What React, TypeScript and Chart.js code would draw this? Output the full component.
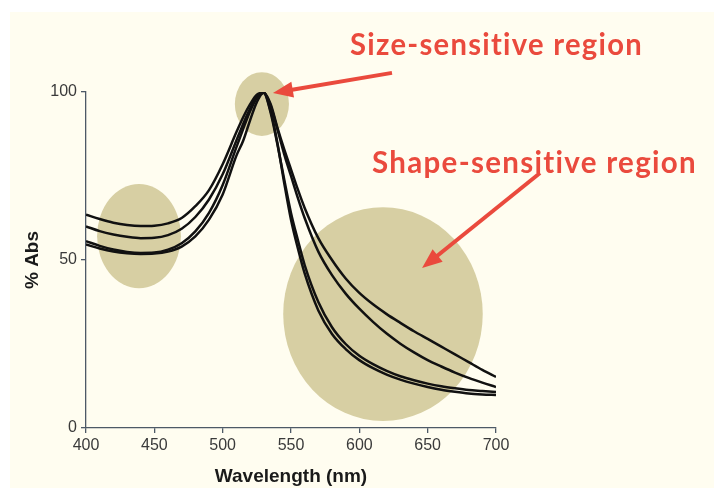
import { useEffect, useRef } from "react";
import { Chart, registerables } from "chart.js";

Chart.register(...registerables);

// Wavelength grid (nm), denser around the plasmon peak
const wavelengths = [
  400, 410, 420, 430, 440, 450, 460, 470, 480, 490, 500,
  510, 515, 520, 525, 530, 535, 540, 545, 550, 555, 560,
  570, 580, 590, 600, 610, 620, 630, 640, 650, 660, 670, 680, 690, 700,
];

// Normalised absorbance spectra (% Abs)
const spectrumA = [
  63.5, 62.2, 61.1, 60.4, 60.1, 60.2, 60.9, 62.5, 66, 70.8, 78.5,
  88, 92.5, 96.3, 99.2, 99.8, 96.5, 89.5, 83, 77, 71, 65.5,
  56.5, 50, 44.5, 40.2, 36.8, 33.9, 31.3, 28.8, 26.5, 24.2, 21.9, 19.6, 17.3, 15.2,
];
const spectrumB = [
  60, 58.6, 57.6, 56.9, 56.5, 56.6, 57.4, 59.3, 62.8, 68, 75.5,
  85.5, 90.5, 95, 98.7, 99.8, 96, 89, 81.5, 75, 68.5, 62.5,
  52.5, 45.5, 40, 35.5, 31.6, 28.1, 25.1, 22.5, 20.2, 18.3, 16.5, 14.9, 13.5, 12.2,
];
const spectrumC = [
  55.6, 54.2, 53.1, 52.4, 52.1, 52.2, 53.1, 55, 58.5, 64, 72.3,
  83.5, 89, 94.2, 98.2, 99.8, 94, 84.5, 74, 64, 56, 48.5,
  37.5, 30, 25, 21.5, 19, 17, 15.4, 14.2, 13.2, 12.4, 11.8, 11.3, 11, 10.7,
];
const spectrumD = [
  54.6, 53.4, 52.5, 52, 51.8, 51.9, 52.5, 54, 57, 62, 69.5,
  81, 85.5, 91.5, 97, 99.8, 94.5, 85, 73, 62, 53.5, 46,
  35, 28, 23.5, 20.2, 17.8, 15.9, 14.4, 13.2, 12.2, 11.4, 10.8, 10.3, 10, 9.8,
];
const spectra = [spectrumA, spectrumB, spectrumC, spectrumD];

// Axis ticks
const xTicks = [400, 450, 500, 550, 600, 650, 700];
const yTicks = [0, 50, 100];

// Highlighted regions: centre (nm, % Abs) and radii (nm, % Abs)
const regionCentersNm = [438.8, 528.7, 617.3];
const regionCentersAbs = [57.1, 96.4, 33.9];
const regionRadiiNm = [30.7, 19.8, 73];
const regionRadiiAbs = [15.5, 9.5, 31.8];

// Callout labels: text, left/baseline anchor (nm, % Abs), width (nm)
const calloutTexts = ["Size-sensitive region", "Shape-sensitive region"];
const calloutNm = [593.2, 609.3];
const calloutAbs = [111.0, 75.9];
const calloutWidthNm = [214.4, 240];

// Arrows: tail and tip (nm, % Abs)
const arrowTailNm = [623.9, 732.2];
const arrowTailAbs = [105.7, 75.9];
const arrowTipNm = [536.8, 645.9];
const arrowTipAbs = [99.7, 47.6];

const AXIS_COLOR = "#4d5966";
const RED = "#ea4a3d";
const TAN = "#d7cfa3";
const CREAM = "#fffdf0";

const backdropPlugin = {
  id: "backdrop",
  beforeDraw(chart: any) {
    const { ctx, width, height } = chart;
    ctx.save();
    ctx.fillStyle = "#ffffff";
    ctx.fillRect(0, 0, width, height);
    ctx.fillStyle = CREAM;
    ctx.fillRect(10, 12, width - 10, height - 12);
    ctx.restore();
  },
  beforeDatasetsDraw(chart: any) {
    const { ctx } = chart;
    const xs = chart.scales.x;
    const ys = chart.scales.y;
    ctx.save();
    ctx.fillStyle = TAN;
    regionCentersNm.forEach((nm, i) => {
      const cx = xs.getPixelForValue(nm);
      const cy = ys.getPixelForValue(regionCentersAbs[i]);
      const rx = xs.getPixelForValue(nm + regionRadiiNm[i]) - cx;
      const ry = cy - ys.getPixelForValue(regionCentersAbs[i] + regionRadiiAbs[i]);
      ctx.beginPath();
      ctx.ellipse(cx, cy, rx, ry, 0, 0, Math.PI * 2);
      ctx.fill();
    });
    ctx.restore();
  },
  afterDraw(chart: any) {
    const { ctx } = chart;
    const xs = chart.scales.x;
    const ys = chart.scales.y;
    ctx.save();
    // arrows
    ctx.strokeStyle = RED;
    ctx.fillStyle = RED;
    ctx.lineWidth = 4;
    ctx.lineCap = "butt";
    arrowTailNm.forEach((nm, i) => {
      const x0 = xs.getPixelForValue(nm);
      const y0 = ys.getPixelForValue(arrowTailAbs[i]);
      const x1 = xs.getPixelForValue(arrowTipNm[i]);
      const y1 = ys.getPixelForValue(arrowTipAbs[i]);
      const ang = Math.atan2(y1 - y0, x1 - x0);
      const headLen = 20;
      const headHalf = 8;
      const bx = x1 - headLen * Math.cos(ang);
      const by = y1 - headLen * Math.sin(ang);
      ctx.beginPath();
      ctx.moveTo(x0, y0);
      ctx.lineTo(bx + 2 * Math.cos(ang), by + 2 * Math.sin(ang));
      ctx.stroke();
      ctx.beginPath();
      ctx.moveTo(x1, y1);
      ctx.lineTo(bx - headHalf * Math.sin(ang), by + headHalf * Math.cos(ang));
      ctx.lineTo(bx + headHalf * Math.sin(ang), by - headHalf * Math.cos(ang));
      ctx.closePath();
      ctx.fill();
    });
    // callout text (letter spacing also keeps "ti" from forming a ligature)
    ctx.font = "bold 29.5px Lato, 'Open Sans', sans-serif";
    (ctx as any).letterSpacing = "1.3px";
    ctx.textBaseline = "alphabetic";
    ctx.textAlign = "left";
    calloutTexts.forEach((t, i) => {
      const x = xs.getPixelForValue(calloutNm[i]);
      const y = ys.getPixelForValue(calloutAbs[i]);
      const w = xs.getPixelForValue(calloutNm[i] + calloutWidthNm[i]) - x;
      ctx.fillText(t, x, y, w);
    });
    ctx.restore();
  },
};

export default function App() {
  const canvasRef = useRef<HTMLCanvasElement | null>(null);

  useEffect(() => {
    const canvas = canvasRef.current;
    if (!canvas) return;
    const chart = new Chart(canvas, {
      type: "line",
      data: {
        datasets: spectra.map((s, i) => ({
          label: `Spectrum ${i + 1}`,
          data: wavelengths.map((w, j) => ({ x: w, y: s[j] })),
          borderColor: "#111111",
          borderWidth: 2.5,
          pointRadius: 0,
          cubicInterpolationMode: "monotone" as const,
          fill: false,
        })),
      },
      options: {
        animation: false,
        responsive: false,
        devicePixelRatio: 1,
        layout: { padding: { left: 0, right: 218, top: 92, bottom: 0 } },
        plugins: {
          legend: { display: false },
          tooltip: { enabled: false },
        },
        scales: {
          x: {
            type: "linear",
            min: 400,
            max: 700,
            afterFit: (scale: any) => {
              scale.height = 60;
            },
            afterBuildTicks: (scale: any) => {
              scale.ticks = xTicks.map((v) => ({ value: v }));
            },
            grid: {
              drawOnChartArea: false,
              drawTicks: true,
              tickLength: 5,
              color: AXIS_COLOR,
              lineWidth: 1.3,
            },
            border: { color: AXIS_COLOR, width: 1.3 },
            ticks: {
              color: "#3a3a3a",
              padding: 3,
              maxRotation: 0,
              font: { family: "'Liberation Sans', Arial, sans-serif", size: 16 },
            },
            title: {
              display: true,
              text: "Wavelength (nm)",
              color: "#1a1a1a",
              padding: { top: 4.6, bottom: 0 },
              font: { family: "'Liberation Sans', Arial, sans-serif", size: 19, weight: "bold" },
            },
          },
          y: {
            type: "linear",
            min: 0,
            max: 100,
            afterFit: (scale: any) => {
              scale.width = 86;
            },
            afterBuildTicks: (scale: any) => {
              scale.ticks = yTicks.map((v) => ({ value: v }));
            },
            grid: {
              drawOnChartArea: false,
              drawTicks: true,
              tickLength: 5,
              color: AXIS_COLOR,
              lineWidth: 1.3,
            },
            border: { color: AXIS_COLOR, width: 1.3 },
            ticks: {
              color: "#3a3a3a",
              padding: 4,
              font: { family: "'Liberation Sans', Arial, sans-serif", size: 16 },
            },
            title: {
              display: true,
              text: "% Abs",
              color: "#1a1a1a",
              padding: { top: 21.6, bottom: 0 },
              font: { family: "'Liberation Sans', Arial, sans-serif", size: 19, weight: "bold" },
            },
          },
        },
      },
      plugins: [backdropPlugin],
    });
    return () => chart.destroy();
  }, []);

  return (
    <div style={{ position: "absolute", left: 0, top: 0, width: 714, height: 488 }}>
      <canvas ref={canvasRef} width={714} height={488} />
    </div>
  );
}
